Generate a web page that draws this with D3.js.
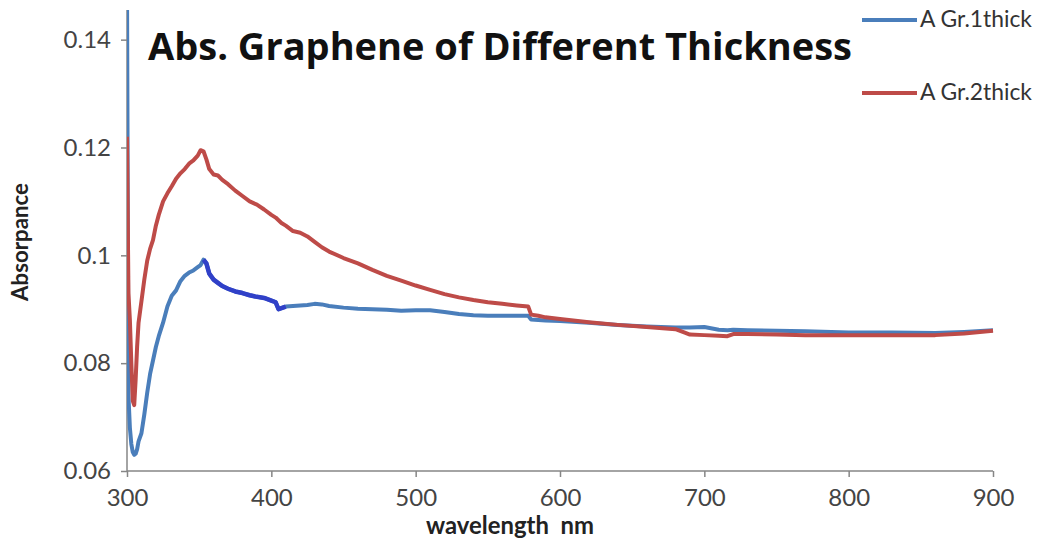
<!DOCTYPE html>
<html><head><meta charset="utf-8">
<script src="https://cdn.jsdelivr.net/npm/d3@7"></script>
<style>html,body{margin:0;padding:0;background:#fff;}svg{display:block;}</style>
</head><body>
<svg id="chart" width="1041" height="547"></svg>
<script>
const titleText = "Abs. Graphene of Different Thickness";
const xLabel = "wavelength  nm";
const yLabel = "Absorpance";
const seriesNames = ["A Gr.1thick", "A Gr.2thick"];
const xTicks = [300, 400, 500, 600, 700, 800, 900];
const yTicks = [0.06, 0.08, 0.1, 0.12, 0.14];

const wavelength = [300,301,302,303,304,305,306,307,308,310,312,314,316,318,320,322,325,328,331,334,337,340,343,346,349,351,353,355,357,360,363,366,370,375,380,385,390,395,400,403,405,407,410,415,420,425,430,435,440,450,460,470,480,490,500,510,520,530,540,550,560,570,578,580,585,590,600,620,640,660,680,686,690,700,710,716,720,730,750,770,800,830,860,880,900];

const gr1 = [0.150,0.074,0.068,0.065,0.0635,0.063,0.0632,0.064,0.0655,0.067,0.0705,0.0745,0.078,0.0805,0.083,0.085,0.0875,0.0905,0.0925,0.0935,0.0952,0.0962,0.0968,0.0972,0.0978,0.0982,0.0992,0.0985,0.0966,0.0955,0.0949,0.0943,0.0938,0.0933,0.0930,0.0926,0.0923,0.0921,0.0916,0.0913,0.0900,0.0902,0.0905,0.0906,0.0907,0.0908,0.0910,0.0909,0.0906,0.0903,0.0901,0.0900,0.0899,0.0897,0.0898,0.0898,0.0895,0.0891,0.0889,0.0888,0.0888,0.0888,0.0888,0.0881,0.0880,0.0879,0.0878,0.0875,0.0871,0.0868,0.0866,0.0866,0.0866,0.0867,0.0862,0.0861,0.0862,0.0861,0.0860,0.0859,0.0857,0.0857,0.0856,0.0858,0.0861];

const gr2 = [0.122,0.093,0.088,0.080,0.073,0.0722,0.077,0.083,0.0875,0.0915,0.0955,0.099,0.1012,0.1028,0.1055,0.1075,0.110,0.1115,0.1128,0.1142,0.1152,0.1160,0.1170,0.1176,0.1185,0.1195,0.1193,0.1178,0.1160,0.1150,0.1148,0.1140,0.1132,0.1120,0.1110,0.1100,0.1094,0.1085,0.1075,0.1070,0.1065,0.1060,0.1055,0.1045,0.1042,0.1035,0.1025,0.1015,0.1007,0.0995,0.0985,0.0973,0.0962,0.0953,0.0944,0.0936,0.0928,0.0922,0.0917,0.0913,0.0910,0.0907,0.0905,0.0890,0.0888,0.0885,0.0882,0.0876,0.0871,0.0867,0.0863,0.0857,0.0853,0.0852,0.0851,0.0850,0.0854,0.0854,0.0853,0.0852,0.0852,0.0852,0.0852,0.0855,0.0860];

// darker segment of series 1 (instrument overlay)
const gr1DarkRange = [353, 410];

const svg = d3.select("#chart");
const x = d3.scaleLinear().domain([300, 900]).range([127, 993]);
const y = d3.scaleLinear().domain([0.06, 0.1455]).range([471, 10]);

const axisColor = "#868686";
const tickFont = "Lato, 'Open Sans', sans-serif";

function fitText(sel, target) {
  const fs = parseFloat(sel.style("font-size"));
  const w = sel.node().getComputedTextLength();
  sel.style("font-size", (fs * target / w).toFixed(2) + "px");
}

svg.append("defs").append("clipPath").attr("id","plotclip")
  .append("rect").attr("x", 127).attr("y", 10).attr("width", 900).attr("height", 462);

// axes
const yAxis = svg.append("g").attr("transform", "translate(127,0)")
  .call(d3.axisLeft(y).tickValues(yTicks).tickSize(6).tickPadding(10).tickFormat(d => String(+d.toFixed(2))));
const xAxis = svg.append("g").attr("transform", "translate(0,471)")
  .call(d3.axisBottom(x).tickValues(xTicks).tickSize(6).tickPadding(12).tickFormat(d3.format("d")));
[xAxis, yAxis].forEach(g => {
  g.select(".domain").attr("stroke", axisColor).attr("stroke-width", 1.5);
  g.selectAll(".tick line").attr("stroke", axisColor).attr("stroke-width", 1.5);
  g.selectAll(".tick text").attr("fill", "#444").style("font-family", tickFont).style("font-size", "24px");
});
xAxis.select(".domain").attr("d", "M127,0H993");
yAxis.select(".domain").attr("d", "M0,471V10");

const data1 = wavelength.map((w, i) => ({w, v: gr1[i]}));
const data2 = wavelength.map((w, i) => ({w, v: gr2[i]}));
const line = d3.line().x(d => x(d.w)).y(d => y(d.v));

const plot = svg.append("g").attr("clip-path", "url(#plotclip)");
plot.append("path").datum(data1).attr("d", line).attr("fill", "none")
  .attr("stroke", "#4a7ebb").attr("stroke-width", 4).attr("stroke-linejoin", "round");
plot.append("path").datum(data1.filter(d => d.w >= gr1DarkRange[0] && d.w <= gr1DarkRange[1])).attr("d", line)
  .attr("fill", "none").attr("stroke", "#3040c8").attr("stroke-width", 4.5).attr("stroke-linejoin", "round");
plot.append("path").datum(data2).attr("d", line).attr("fill", "none")
  .attr("stroke", "#be4b48").attr("stroke-width", 4).attr("stroke-linejoin", "round");

// title
const t = svg.append("text").attr("x", 148).attr("y", 60).text(titleText)
  .style("font-family", "'Open Sans', Lato, sans-serif").style("font-weight", "bold")
  .style("font-size", "36px").attr("fill", "#111");
fitText(t, 704);

// axis titles
const yl = svg.append("text").attr("transform", "translate(28,242) rotate(-90)").attr("text-anchor", "middle")
  .text(yLabel).style("font-family", "Lato, sans-serif").style("font-weight", "bold")
  .style("font-size", "18px").attr("fill", "#222");
fitText(yl, 118);
const xl = svg.append("text").attr("x", 510).attr("y", 534).attr("text-anchor", "middle")
  .attr("xml:space", "preserve").style("white-space", "pre")
  .text(xLabel).style("font-family", "Lato, sans-serif").style("font-weight", "bold")
  .style("font-size", "18px").attr("fill", "#222");
fitText(xl, 168);

// legend
const legendColors = ["#4a7ebb", "#be4b48"];
const legendY = [20, 93];
seriesNames.forEach((name, i) => {
  svg.append("line").attr("x1", 862).attr("x2", 917).attr("y1", legendY[i]).attr("y2", legendY[i])
    .attr("stroke", legendColors[i]).attr("stroke-width", 4);
  const lt = svg.append("text").attr("x", 920).attr("y", legendY[i] + 7).text(name)
    .style("font-family", tickFont).style("font-size", "20px").attr("fill", "#333");
  fitText(lt, 112);
});
</script>
</body></html>
